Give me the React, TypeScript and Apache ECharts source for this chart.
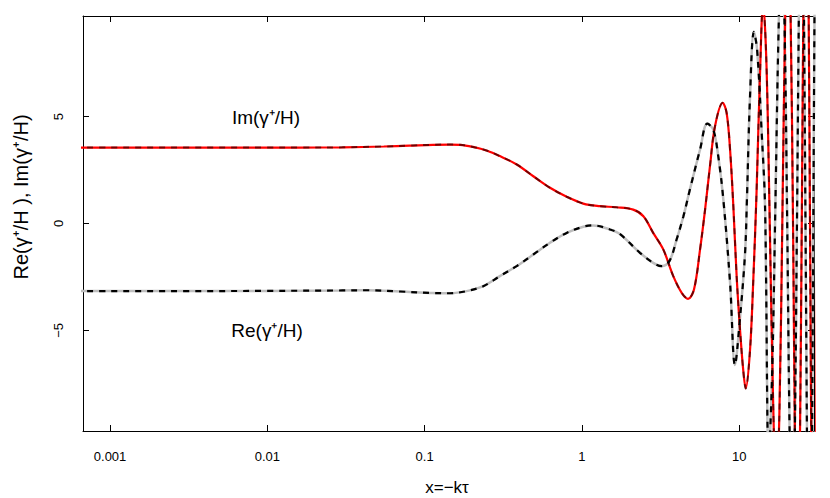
import React, { useEffect, useRef } from "react";
import * as echarts from "echarts";

// Axis ticks
const xTickValues = [0.001, 0.01, 0.1, 1, 10];
const xTickLabels = ["0.001", "0.01", "0.1", "1", "10"];
const yTickValues = [-5, 0, 5];
const yTickLabels = ["\u22125", "0", "5"];
const xRange = [0.000673, 29.9];
const yRange = [-9.7, 9.7];

// Im(gamma+/H)
const imX = [0.0006, 0.001, 0.003, 0.01, 0.016, 0.03, 0.055, 0.08, 0.113, 0.145, 0.168, 0.203, 0.25, 0.301, 0.385, 0.491, 0.627, 0.8, 1.02, 1.3, 1.66, 2.12, 2.46, 2.84, 3.29, 3.81, 4.31, 4.73, 5.16, 5.64, 6.07, 6.52, 7.02, 7.85, 8.32, 8.75, 9.18, 9.64, 10.12, 10.6, 11.0, 11.7, 12.3, 12.9, 13.5, 14.2, 14.9, 15.6, 16.4, 17.2, 18.0, 18.8, 19.6, 20.4, 21.2, 22.0, 22.7, 23.5, 24.2, 25.0, 25.8, 26.6, 27.4, 28.2, 29.0, 29.8, 30.6, 31.4];
const imY = [3.55, 3.55, 3.55, 3.55, 3.55, 3.56, 3.6, 3.64, 3.68, 3.69, 3.68, 3.58, 3.4, 3.15, 2.76, 2.21, 1.67, 1.25, 0.93, 0.81, 0.76, 0.65, 0.34, -0.44, -1.21, -2.46, -3.24, -3.52, -3.08, -1.21, 0.65, 2.68, 4.55, 5.64, 5.17, 3.46, 0.81, -2.5, -4.95, -6.82, -7.71, -6.0, -2.6, 1.5, 6.5, 10.3, 7.5, 0.5, -8, -12.5, -9, 0, 9.5, 14.5, 10, 0, -11, -17, -12, 0, 13, 19, 13.5, 0, -14.5, -21, -15, 0];

// Re(gamma+/H)
const reX = [0.0006, 0.001, 0.003, 0.01, 0.03, 0.043, 0.07, 0.113, 0.145, 0.185, 0.236, 0.301, 0.385, 0.491, 0.627, 0.8, 1.02, 1.18, 1.51, 1.75, 2.34, 2.84, 3.21, 3.6, 4.0, 4.42, 4.86, 5.64, 6.27, 6.84, 7.36, 7.93, 8.75, 9.4, 10.1, 10.9, 11.2, 11.7, 12.4, 13.0, 13.9, 14.6, 15.4, 16.2, 17.0, 17.8, 18.6, 19.4, 20.2, 20.9, 21.7, 22.5, 23.3, 24.1, 24.9, 25.6, 26.4, 27.2, 28.0, 28.8, 29.6, 30.4, 31.2];
const reY = [-3.16, -3.16, -3.16, -3.15, -3.13, -3.12, -3.18, -3.25, -3.26, -3.16, -2.93, -2.46, -1.99, -1.45, -0.9, -0.44, -0.15, -0.09, -0.28, -0.5, -1.37, -1.84, -1.99, -1.76, -0.75, 0.34, 1.59, 3.46, 4.67, 4.39, 3.15, 1.12, -2.77, -6.62, -4.49, -1.37, 1.12, 5.79, 8.96, 8.13, 4.25, 0.81, -11, -7, 1, 9, 13, 9.5, 0, -9.5, -15, -10.5, 0, 11.5, 17.5, 12.5, 0, -13, -20, -14, 0, 14, 20];

const FONT = "'Liberation Sans', Arial, Helvetica, sans-serif";

const toPts = (xs: number[], ys: number[]) => xs.map((x, i) => [Math.log10(x), ys[i]]);

const xLabel = (v: number) => {
  const i = xTickValues.findIndex((t) => Math.abs(Math.log10(t) - v) < 1e-6);
  return i >= 0 ? xTickLabels[i] : "";
};
const yLabel = (v: number) => {
  const i = yTickValues.findIndex((t) => Math.abs(t - v) < 1e-6);
  return i >= 0 ? yTickLabels[i] : "";
};

export default function App() {
  const ref = useRef<HTMLDivElement>(null);
  useEffect(() => {
    if (!ref.current) return;
    const chart = echarts.init(ref.current, undefined, { renderer: "svg" });
    const xMin = Math.log10(xRange[0]);
    const xMax = Math.log10(xRange[1]);
    const xTicksLog = xTickValues.map((v) => Math.log10(v));
    const axisLine = { show: true, onZero: false, lineStyle: { color: "#000", width: 1 } };
    const xBase = {
      type: "value" as const,
      min: xMin,
      max: xMax,
      axisLine,
      splitLine: { show: false },
      axisTick: { show: true, inside: true, length: 6, customValues: xTicksLog, lineStyle: { color: "#000" } },
    };
    const yBase = {
      type: "value" as const,
      min: yRange[0],
      max: yRange[1],
      axisLine,
      splitLine: { show: false },
      axisTick: { show: true, inside: true, length: 6, customValues: yTickValues, lineStyle: { color: "#000" } },
    };
    chart.setOption({
      animation: false,
      backgroundColor: "#fff",
      grid: { left: 83, right: 16, top: 16, bottom: 67, containLabel: false },
      xAxis: [
        {
          ...xBase,
          position: "bottom",
          axisLabel: { show: true, customValues: xTicksLog, formatter: xLabel, margin: 19, fontSize: 13, color: "#000", fontFamily: FONT },
        },
        { ...xBase, position: "top", axisLabel: { show: false } },
      ],
      yAxis: [
        {
          ...yBase,
          position: "left",
          axisLabel: { show: true, customValues: yTickValues, formatter: yLabel, rotate: 90, margin: 18, fontSize: 13, color: "#000", fontFamily: FONT },
        },
        { ...yBase, position: "right", axisLabel: { show: false } },
      ],
      series: [
        {
          type: "line",
          data: toPts(reX, reY),
          showSymbol: false,
          smooth: 0.35,
          clip: true,
          lineStyle: { color: "#bebebe", width: 2.5 },
        },
        {
          type: "line",
          data: toPts(imX, imY),
          showSymbol: false,
          smooth: 0.35,
          clip: true,
          lineStyle: { color: "#ff0000", width: 2.2 },
        },
        {
          type: "line",
          data: toPts(reX, reY),
          showSymbol: false,
          smooth: 0.35,
          clip: true,
          lineStyle: { color: "#000", width: 2.2, type: [6, 6] },
        },
        {
          type: "line",
          data: toPts(imX, imY),
          showSymbol: false,
          smooth: 0.35,
          clip: true,
          lineStyle: { color: "#000", width: 2, opacity: 0.55, type: [6, 6] },
        },
      ],
      graphic: [
        {
          type: "text",
          x: 21,
          y: 197,
          rotation: Math.PI / 2,
          style: { text: "Re(\u03b3\u207a/H ), Im(\u03b3\u207a/H)", fontSize: 20, fontFamily: FONT, fill: "#000", textAlign: "center", textVerticalAlign: "middle" },
        },
        {
          type: "text",
          x: 447,
          y: 487,
          style: { text: "x=\u2212k\u03c4", fontSize: 17, fontFamily: FONT, fill: "#000", textAlign: "center", textVerticalAlign: "middle" },
        },
        {
          type: "text",
          x: 266,
          y: 117,
          style: { text: "Im(\u03b3\u207a/H)", fontSize: 19, fontFamily: FONT, fill: "#000", textAlign: "center", textVerticalAlign: "middle" },
        },
        {
          type: "text",
          x: 267,
          y: 330,
          style: { text: "Re(\u03b3\u207a/H)", fontSize: 19, fontFamily: FONT, fill: "#000", textAlign: "center", textVerticalAlign: "middle" },
        },
      ],
    });
    return () => chart.dispose();
  }, []);
  return <div ref={ref} style={{ position: "absolute", left: 0, top: 0, width: 830, height: 498 }} />;
}
